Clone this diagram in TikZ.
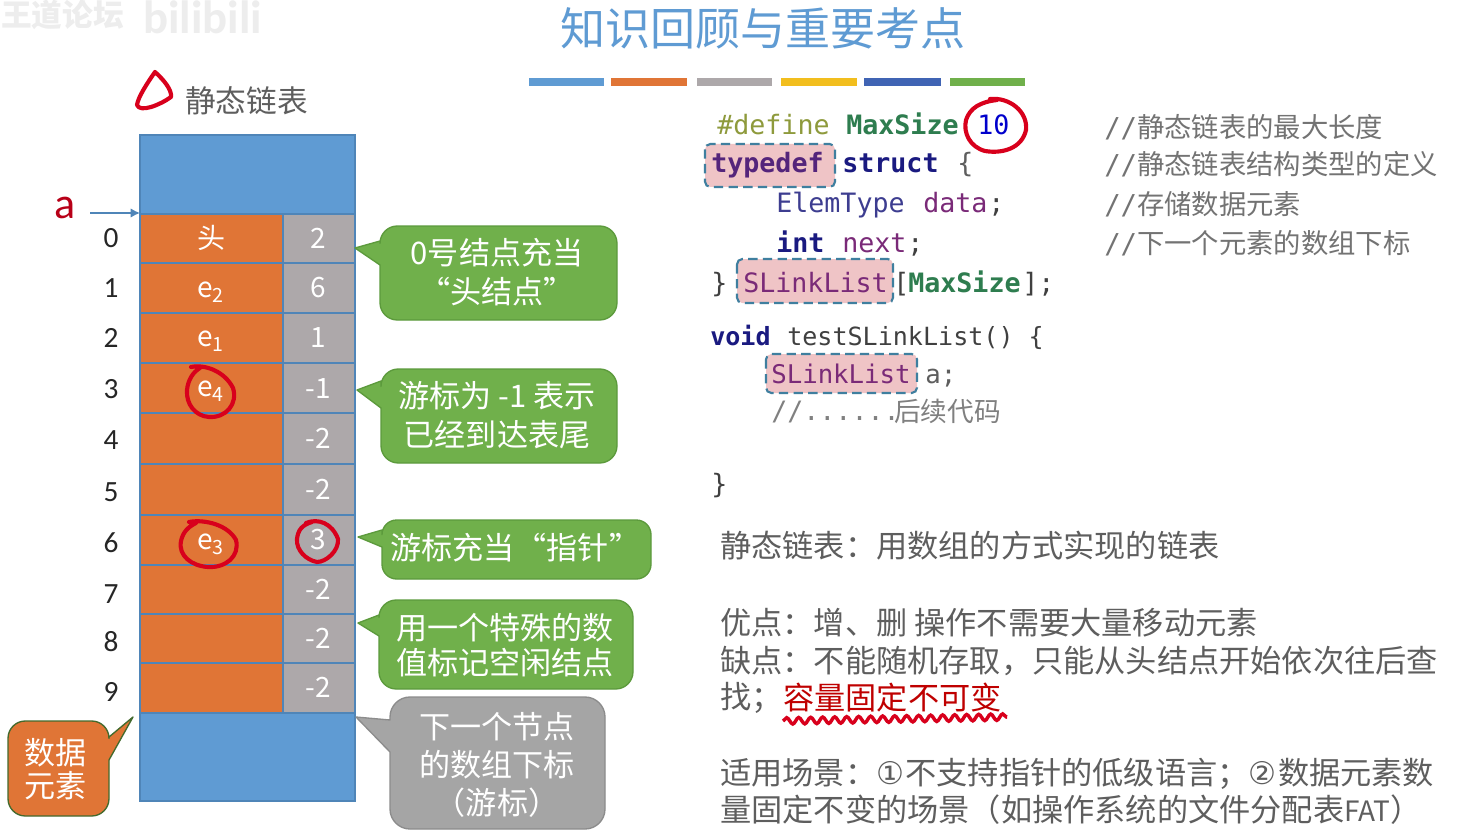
\documentclass[tikz,border=0pt]{standalone}
\usepackage{fontspec}
\setmainfont{Carlito}
\setmonofont{DejaVu Sans Mono}
\newfontfamily\cjk{Noto Sans CJK SC}
\newfontfamily\symfont{DejaVu Sans}
\usetikzlibrary{decorations.pathmorphing,arrows.meta}
\definecolor{cblue}{HTML}{5F9BD3}
\definecolor{cblueb}{HTML}{4F85B8}
\definecolor{corange}{HTML}{E07536}
\definecolor{cgray}{HTML}{ADA8AA}
\definecolor{cgreen}{HTML}{70B04B}
\definecolor{cgreenb}{HTML}{5C9A3C}
\definecolor{cgraybox}{HTML}{A5A5A5}
\definecolor{ink}{HTML}{5E5E5E}
\definecolor{hand}{HTML}{D8001C}
\definecolor{pinkbg}{HTML}{EFC4C6}
\definecolor{dashb}{HTML}{3F7F9F}
\definecolor{kw}{HTML}{1A1A80}
\definecolor{typ}{HTML}{7A2A78}
\definecolor{mac}{HTML}{2E7D4F}
\definecolor{prep}{HTML}{8E9A3C}
\definecolor{elem}{HTML}{3D3D90}
\definecolor{bardark}{HTML}{4064B4}
\definecolor{baryel}{HTML}{F2BE1E}
\newcommand{\fs}[1]{\fontsize{#1}{#1}\selectfont}
\tikzset{
  x=0.75pt,y=-0.75pt,
  cell/.style={draw=cblueb,line width=1pt},
  datacell/.style={cell,fill=corange},
  nextcell/.style={cell,fill=cgray},
  storecell/.style={cell,fill=cblue},
  celltext/.style={text=white,font=\fs{21}\cjk,anchor=center,inner sep=0pt},
  idx/.style={text=black!85,font=\fs{22},anchor=center,inner sep=0pt},
  greenbox/.style={fill=cgreen,draw=cgreenb,line width=1pt,line join=round},
  graybox/.style={fill=cgraybox,draw=black!45,line width=1pt,line join=round},
  orangebox/.style={fill=corange,draw=black!40!cgreen,line width=1pt,line join=round},
  boxtext/.style={text=white,font=\fs{23.3}\cjk,align=center,anchor=center,inner sep=0pt},
  code/.style={font=\fs{20}\ttfamily,anchor=base west,inner sep=0pt},
  note/.style={font=\fs{20.5}\cjk,text=ink,anchor=west,inner sep=0pt},
  body/.style={font=\fs{23.4}\cjk,text=ink,anchor=west,inner sep=0pt},
  handline/.style={draw=hand,line width=3.1pt,line cap=round,line join=round},
  hilite/.style={fill=pinkbg,draw=dashb,line width=1.6pt,dash pattern=on 7pt off 4pt,rounded corners=4pt},
}
\begin{document}
\begin{tikzpicture}
\useasboundingbox (0,0) rectangle (1463,838);
\fill[white] (0,0) rectangle (1463,838);
% watermark
\node[text=black!7,font=\fs{23}\cjk\bfseries,anchor=west,inner sep=0pt] (wm1) at (1,15) {王道论坛};
\node[text=black!7,font=\fs{35}\bfseries,anchor=west,inner sep=0pt] (wm2) at (143,17) {bilibili};
% title
\node[text=cblue,font=\fs{33.8}\cjk,inner sep=0pt] (title) at (763,28) {知识回顾与重要考点};
\foreach \xa/\xb/\c [count=\i] in {529/604/cblue,611/687/corange,697/772/cgray,781/857/baryel,864/941/bardark,950/1025/cgreen}
  \fill[\c] (\xa,78) rectangle (\xb,86);
% heading
\node[text=ink,font=\fs{23}\cjk,anchor=west,inner sep=0pt] (head) at (185,101) {静态链表};
\draw[handline] (155,72) .. controls (148,82) and (138,97) .. (137,105) .. controls (140,113) and (160,105) .. (171,97) .. controls (172,90) and (164,80) .. (155,72);
% storage
\draw[storecell] (140,135) rectangle (355,214);
\draw[storecell] (140,713) rectangle (355,801);
\foreach \ya/\yb/\num/\d/\n/\iy/\ny/\dy in {
  214/263/0/头/2/238/238/238,
  263/313/1/{e\textsubscript{2}}/6/288/288/292,
  313/363/2/{e\textsubscript{1}}/1/338/338/341,
  363/413/3/{e\textsubscript{4}}/-1/389/389/391,
  413/464/4//-2/440/438/438,
  464/515/5//-2/492/489/489,
  515/565/6/{e\textsubscript{3}}/3/543/540/544,
  565/614/7//-2/594/589/589,
  614/663/8//-2/642/638/638,
  663/713/9//-2/692/687/687}{
  \draw[datacell] (140,\ya) rectangle (283,\yb);
  \draw[nextcell] (283,\ya) rectangle (355,\yb);
  \node[celltext] (d\num) at (211,\dy) {\d};
  \node[celltext] (n\num) at (318,\ny) {\n};
  \node[idx] (i\num) at (111,\iy) {\num};
}
% pointer a
\node[text=hand!85!black,font=\fs{33},inner sep=0pt] (a) at (65,208) {a};
\coordinate (atip) at (140,213);
\coordinate (atail) at (90,213);
\draw[cblueb,line width=1pt,-{Latex[length=7pt,width=7pt]}] (atail) -- (atip);
% callouts
\path[greenbox] (355,248) -- (380,241) [rounded corners=13pt] -- (380,226) -- (617,226) -- (617,320) -- (380,320) [sharp corners] -- (380,265) -- cycle;
\node[boxtext] (c1) at (497,272) {0号结点充当\\[6pt]“头结点”};
\path[greenbox] (357,390) -- (381,381) [rounded corners=13pt] -- (381,369) -- (617,369) -- (617,463) -- (381,463) [sharp corners] -- (381,408) -- cycle;
\node[boxtext] (c2) at (497,415) {游标为 -1 表示\\[6pt]已经到达表尾};
\path[greenbox] (358,537) -- (382,530) [rounded corners=11pt] -- (382,520) -- (651,520) -- (651,579) -- (382,579) [sharp corners] -- (382,547) -- cycle;
\node[boxtext,anchor=west] (c3) at (390,548) {游标充当\hspace{1pt}“指针”};
\path[greenbox] (358,623) -- (379,615) [rounded corners=13pt] -- (379,600) -- (633,600) -- (633,689) -- (379,689) [sharp corners] -- (379,636) -- cycle;
\node[boxtext] (c4) at (505,645) {用一个特殊的数\\[3.5pt]值标记空闲结点};
\path[graybox] (356,717) -- (390,720) [rounded corners=15pt] -- (390,697) -- (605,697) -- (605,829) -- (390,829) [sharp corners] -- (390,752) -- cycle;
\node[boxtext] (c5) at (497,765) {下一个节点\\[5pt]的数组下标\\[5pt]（游标）};
\path[orangebox] (133,717) -- (109,737) [rounded corners=13pt] -- (109,721) -- (8,721) -- (8,816) -- (109,816) [sharp corners] -- (109,760) -- cycle;
\node[boxtext] (c6) at (56,769) {数据\\[1.5pt]元素};
% hand circles
\draw[handline] (191,367) .. controls (206,364) and (225,372) .. (233,388) .. controls (238,404) and (226,418) .. (209,417) .. controls (195,416) and (186,404) .. (187,390) .. controls (188,380) and (193,372) .. (200,368);
\draw[handline] (189,522) .. controls (205,519) and (228,525) .. (236,540) .. controls (240,556) and (226,568) .. (208,567) .. controls (192,566) and (178,556) .. (181,541) .. controls (183,532) and (188,527) .. (196,523);
\draw[handline] (306,523) .. controls (318,518) and (332,523) .. (338,539) .. controls (339,551) and (326,562) .. (317,562) .. controls (306,560) and (296,550) .. (297,539) .. controls (298,530) and (302,525) .. (312,522);
% code
\path[hilite] (705,144) rectangle (835,187);
\path[hilite] (737,259) rectangle (893,303);
\path[hilite] (766,354) rectangle (917,393);
\node[code,text=prep] (l1a) at (717,135) {\#define};
\node[code,text=mac,font=\fs{20}\ttfamily\bfseries] (l1b) at (846,135) {MaxSize};
\node[code,text=blue!80!black] (l1c) at (977,135) {10};
\draw[handline] (990,99) .. controls (1010,97) and (1028,112) .. (1026,130) .. controls (1022,148) and (1003,154) .. (985,151) .. controls (970,147) and (963,133) .. (966,120) .. controls (970,108) and (980,102) .. (997,100);
\node[code,text=typ!60!kw,font=\fs{20}\ttfamily\bfseries] (l2a) at (711,172) {typedef};
\node[code,text=kw,font=\fs{20}\ttfamily\bfseries] (l2b) at (842,172) {struct};
\node[code,text=ink] (l2c) at (957,172) {\{};
\node[code,text=elem] (l3a) at (776,212) {ElemType};
\node[code,text=typ] (l3b) at (923,212) {data};
\node[code,text=black!75] (l3c) at (988,212) {;};
\node[code,text=kw,font=\fs{20}\ttfamily\bfseries] (l4a) at (776,252) {int};
\node[code,text=typ] (l4b) at (842,252) {next};
\node[code,text=black!75] (l4c) at (907,252) {;};
\node[code,text=black!75] (l5a) at (711,292) {\}};
\node[code,text=typ] (l5b) at (743,292) {SLinkList};
\node[code,text=black!75] (l5c) at (893,292) {[};
\node[code,text=mac,font=\fs{20}\ttfamily\bfseries] (l5d) at (908,292) {MaxSize};
\node[code,text=black!75] (l5e) at (1022,292) {];};
\node[code,text=kw,font=\fs{18.8}\ttfamily\bfseries] (l6a) at (710,345) {void};
\node[code,text=black!75,font=\fs{18.8}\ttfamily] (l6b) at (787,345) {testSLinkList() \{};
\node[code,text=typ,font=\fs{19.3}\ttfamily] (l7a) at (771,383) {SLinkList};
\node[code,text=ink,font=\fs{19.3}\ttfamily] (l7b) at (925,383) {a;};
\node[code,text=gray] (l8a) at (771,420) {//......};
\node[note,text=gray,font=\fs{20}\cjk] (l8b) at (894,411) {后续代码};
\node[code,text=black!75] (l9) at (711,493) {\}};
% comments
\node[note,text=gray!90!black] (n1) at (1104,127) {{\ttfamily //}静态链表的最大长度};
\node[note,text=gray!90!black] (n2) at (1104,164) {{\ttfamily //}静态链表结构类型的定义};
\node[note,text=gray!90!black] (n3) at (1104,204) {{\ttfamily //}存储数据元素};
\node[note,text=gray!90!black] (n4) at (1104,243) {{\ttfamily //}下一个元素的数组下标};
% body
\node[body] (b1) at (720,546) {静态链表：用数组的方式实现的链表};
\node[body] (b2) at (720,623) {优点：增、删 操作不需要大量移动元素};
\node[body] (b3) at (720,661) {缺点：不能随机存取，只能从头结点开始依次往后查};
\node[body] (b4) at (720,698) {找；};
\node[body,text=red!75!black] (b5) at (783,698) {容量固定不可变};
\coordinate (wava) at (783,721);
\coordinate (wavb) at (1007,717);
\draw[hand,line width=2.6pt,decorate,decoration={snake,amplitude=2.4pt,segment length=9pt}] (wava) -- (wavb);
\node[body] (b6) at (720,774) {适用场景：{\symfont ①}\hspace{1pt}不支持指针的低级语言；{\symfont ②}\hspace{1pt}数据元素数};
\node[body] (b7) at (720,810) {量固定不变的场景（如操作系统的文件分配表{\fs{21}FAT}）};
\end{tikzpicture}
\end{document}
